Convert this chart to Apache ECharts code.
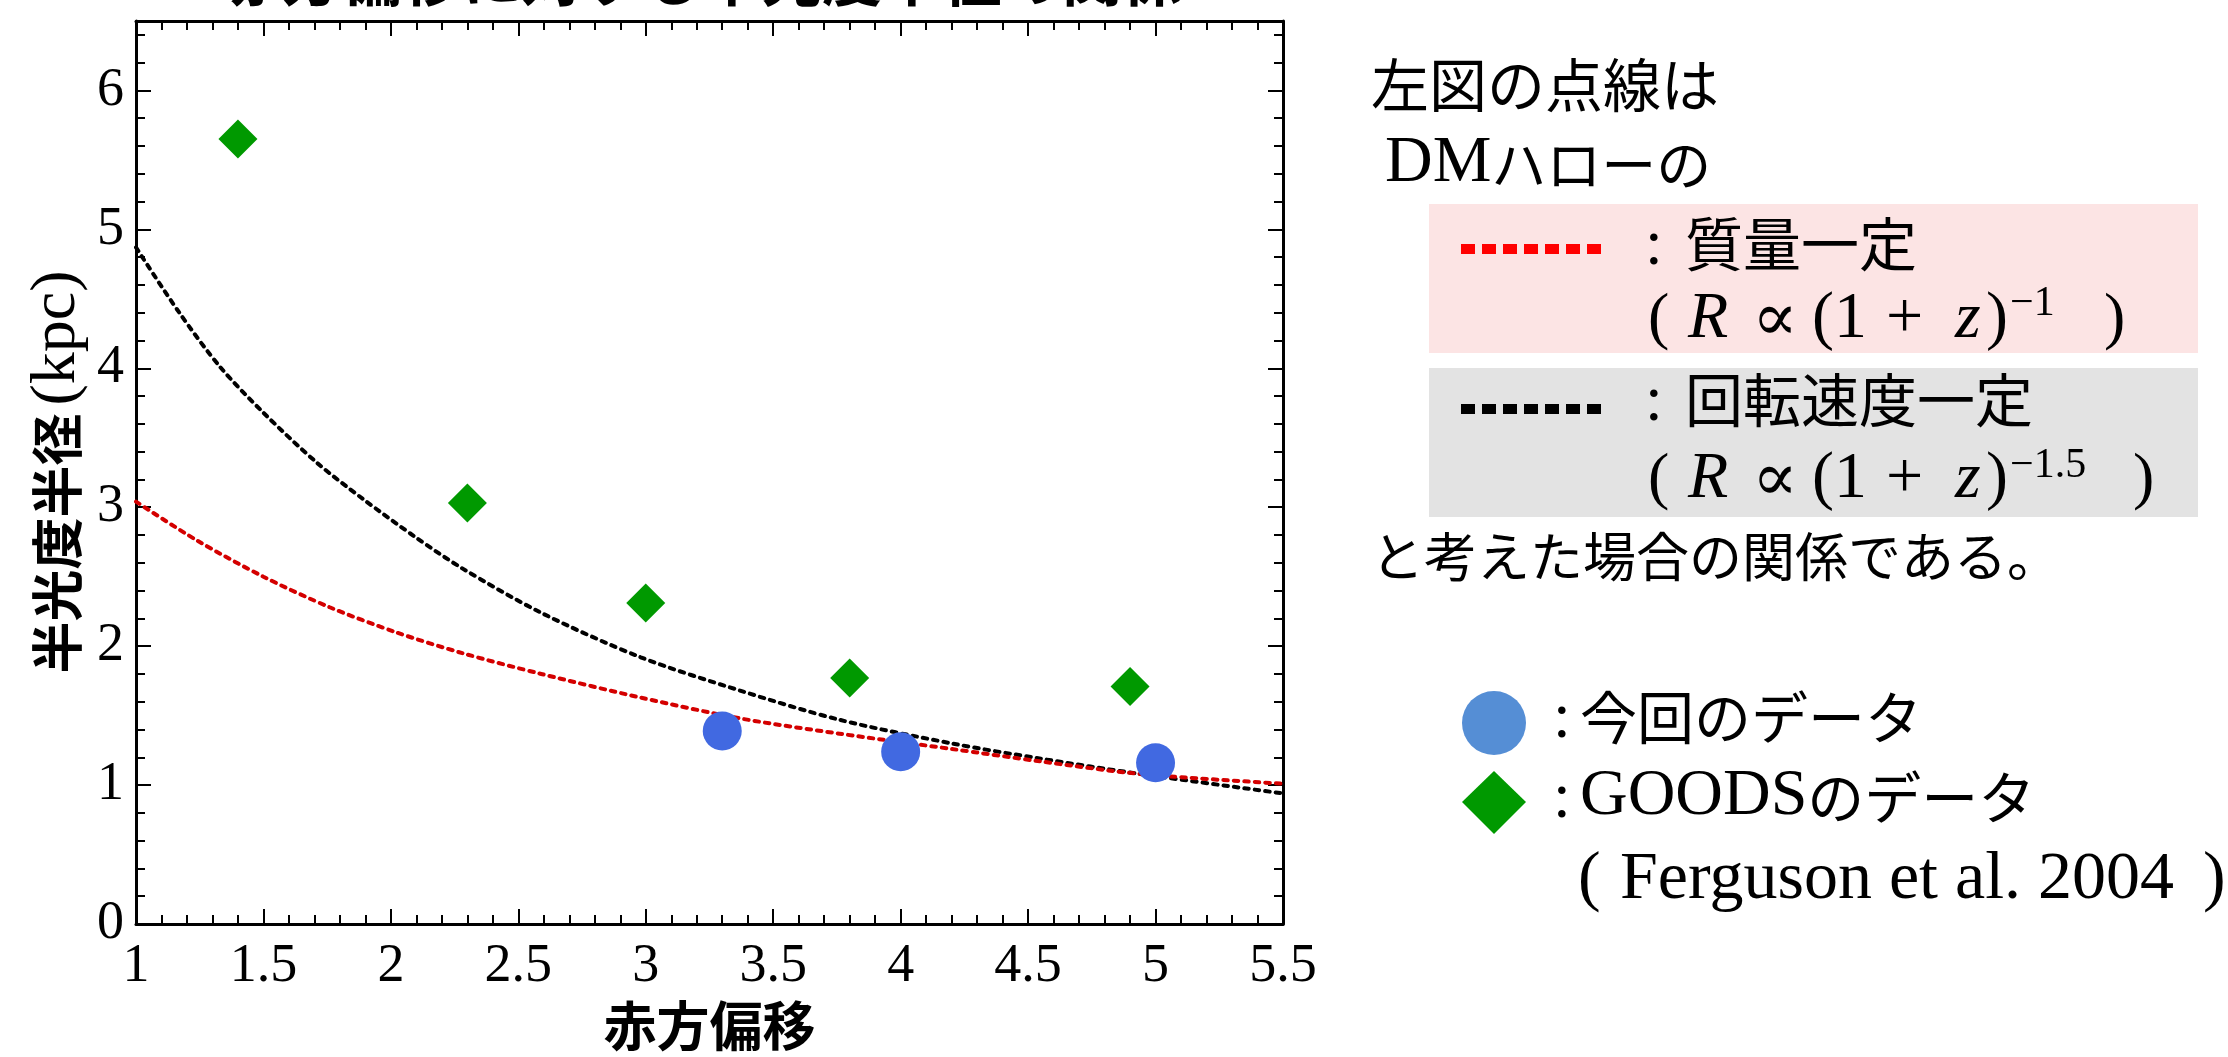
<!DOCTYPE html>
<html><head><meta charset="utf-8">
<script src="https://cdn.jsdelivr.net/npm/echarts@6/dist/echarts.min.js"></script>
<style>html,body{margin:0;padding:0;background:#fff}#c{width:2228px;height:1057px}</style>
</head><body><div id="c"></div><script>
// ---- data ----
const zBlue = [3.3, 4.0, 5.0];
const rBlue = [1.39, 1.24, 1.16];
const zGoods = [1.4, 2.3, 3.0, 3.8, 4.9];
const rGoods = [5.65, 3.03, 2.31, 1.77, 1.71];
const zBlackCurve = [1, 1.17, 1.33, 1.5, 1.71, 1.89, 2.1, 2.28, 2.59, 2.98, 3.37, 3.76, 4.2, 4.55, 4.94, 5.5];
const rBlackCurve = [4.87, 4.40, 4.01, 3.68, 3.32, 3.06, 2.78, 2.56, 2.24, 1.92, 1.68, 1.47, 1.30, 1.19, 1.08, 0.94];
const zRedCurve = [1, 1.24, 1.5, 1.76, 2.02, 2.28, 2.59, 2.98, 3.37, 3.76, 4.2, 4.55, 4.94, 5.5];
const rRedCurve = [3.04, 2.76, 2.50, 2.28, 2.10, 1.95, 1.80, 1.63, 1.48, 1.37, 1.26, 1.17, 1.08, 1.01];
const xRange = [1, 5.5];
const yRange = [0, 6.5];
const xTitle = '赤方偏移';
const yTitleJp = '半光度半径';
const yTitleUnit = '(kpc)';
const chartTitle = '赤方偏移に対する半光度半径の関係';

const SERIF = '"Liberation Serif", "DejaVu Serif", serif';
const JP = '"Noto Sans CJK JP", sans-serif';
const pairs = (xs, ys) => xs.map((x, i) => [x, ys[i]]);

const chart = echarts.init(document.getElementById('c'), null, {renderer: 'canvas'});

const axisLine = {show: true, onZero: false, lineStyle: {color: '#000', width: 3}};
const tick = {show: true, inside: true, length: 15, lineStyle: {color: '#000', width: 2}};
const minor = {show: true, splitNumber: 5, length: 9, lineStyle: {color: '#000', width: 2}};
const lbl = {fontFamily: SERIF, fontSize: 54, color: '#000'};

function txt(text, x, y, font, extra) {
  return Object.assign({type: 'text', z: 20, style: {text: text, x: x, y: y, font: font, fill: '#000', textAlign: 'left', textVerticalAlign: 'middle'}}, extra || {});
}
const f = (size, fam, style) => (style ? style + ' ' : '') + size + 'px ' + fam;

function formula(y, supText, closeX, supY) {
  return [
    txt('(', 1648, y, f(64, SERIF)),
    txt('R', 1688, y, f(66, SERIF, 'italic')),
    txt('∝', 1752, y + 2, f(68, '"DejaVu Serif", serif')),
    txt('(', 1812, y, f(66, SERIF)),
    txt('1', 1834, y, f(66, SERIF)),
    txt('+', 1886, y, f(66, SERIF)),
    txt('z', 1955, y, f(66, SERIF, 'italic')),
    txt(')', 1986, y, f(66, SERIF)),
    txt(supText, 2010, supY, f(42, SERIF)),
    txt(')', closeX, y, f(64, SERIF))
  ];
}

const graphics = [
  // cut-off title at the very top
  {type: 'text', z: 20, style: {text: chartTitle, x: 702, y: -22, font: 'bold 60px ' + JP, fill: '#000', textAlign: 'center', textVerticalAlign: 'middle'}},
  // y axis title (rotated)
  {type: 'text', z: 20, x: 57, y: 472, rotation: Math.PI / 2,
   style: {text: '{j|' + yTitleJp + '}{l|' + yTitleUnit + '}', x: 0, y: 0, textAlign: 'center', textVerticalAlign: 'middle', fill: '#000',
     rich: {j: {fontFamily: JP, fontSize: 52, fontWeight: 'bold', fill: '#000'}, l: {fontFamily: SERIF, fontSize: 64, fill: '#000', padding: [0, 0, 0, 8]}}}},
  txt('左図の点線は', 1371, 85, f(58, JP)),
  {type: 'text', z: 20, style: {text: '{l|DM}{j|ハローの}', x: 1385, y: 164, textAlign: 'left', textVerticalAlign: 'middle', fill: '#000',
    rich: {l: {fontFamily: SERIF, fontSize: 66, fill: '#000'}, j: {fontFamily: JP, fontSize: 55, fill: '#000'}}}},
  {type: 'rect', z: 1, shape: {x: 1429, y: 204, width: 769, height: 149}, style: {fill: '#FCE4E4'}},
  {type: 'line', z: 5, shape: {x1: 1461, y1: 249, x2: 1606, y2: 249}, style: {stroke: '#FF0000', lineWidth: 10, lineDash: [14, 7]}},
  txt(':', 1645, 247, f(64, SERIF)),
  txt('質量一定', 1685, 244, f(58, JP)),
  ...formula(320, '−1', 2104, 304),
  {type: 'rect', z: 1, shape: {x: 1429, y: 368, width: 769, height: 149}, style: {fill: '#E3E3E3'}},
  {type: 'line', z: 5, shape: {x1: 1461, y1: 409, x2: 1606, y2: 409}, style: {stroke: '#000', lineWidth: 10, lineDash: [14, 7]}},
  txt(':', 1645, 403, f(64, SERIF)),
  txt('回転速度一定', 1685, 400, f(58, JP)),
  ...formula(480, '−1.5', 2133, 466),
  txt('と考えた場合の関係である。', 1371, 557, f(53, JP)),
  {type: 'circle', z: 5, shape: {cx: 1494, cy: 723, r: 32}, style: {fill: '#558ED5'}},
  txt(':', 1553, 720, f(64, SERIF)),
  txt('今回のデータ', 1580, 717, f(57, JP)),
  {type: 'polygon', z: 5, shape: {points: [[1494, 771], [1526, 802], [1494, 834], [1462, 802]]}, style: {fill: '#009900'}},
  txt(':', 1553, 800, f(64, SERIF)),
  {type: 'text', z: 20, style: {text: '{l|GOODS}{j|のデータ}', x: 1580, y: 797, textAlign: 'left', textVerticalAlign: 'middle', fill: '#000',
    rich: {l: {fontFamily: SERIF, fontSize: 66, fill: '#000'}, j: {fontFamily: JP, fontSize: 57, fill: '#000'}}}},
  txt('(', 1578, 880, f(68, SERIF)),
  txt('Ferguson et al. 2004', 1620, 880, f(68, SERIF)),
  txt(')', 2203, 880, f(68, SERIF))
];

const option = {
  animation: false,
  backgroundColor: '#fff',
  grid: {left: 136, right: 945, top: 21, bottom: 118, containLabel: false},
  xAxis: [
    {type: 'value', min: xRange[0], max: xRange[1], interval: 0.5, position: 'bottom',
     name: xTitle, nameLocation: 'middle', nameGap: 75,
     nameTextStyle: {fontFamily: JP, fontSize: 53, fontWeight: 'bold', color: '#000'},
     axisLine: axisLine, axisTick: tick, minorTick: minor, splitLine: {show: false},
     axisLabel: Object.assign({margin: 16}, lbl)},
    {type: 'value', min: xRange[0], max: xRange[1], interval: 0.5, position: 'top',
     axisLine: axisLine, axisTick: tick, minorTick: minor, splitLine: {show: false}, axisLabel: {show: false}}
  ],
  yAxis: [
    {type: 'value', min: yRange[0], max: yRange[1], interval: 1, position: 'left',
     axisLine: axisLine, axisTick: tick, minorTick: minor, splitLine: {show: false},
     axisLabel: Object.assign({margin: 12, showMaxLabel: false}, lbl)},
    {type: 'value', min: yRange[0], max: yRange[1], interval: 1, position: 'right',
     axisLine: axisLine, axisTick: tick, minorTick: minor, splitLine: {show: false}, axisLabel: {show: false}}
  ],
  series: [
    {type: 'line', data: pairs(zBlackCurve, rBlackCurve), smooth: 0.3, showSymbol: false, z: 2,
     lineStyle: {color: '#000', width: 4, type: [4.5, 6], cap: 'round'}},
    {type: 'line', data: pairs(zRedCurve, rRedCurve), smooth: 0.3, showSymbol: false, z: 3,
     lineStyle: {color: '#D40000', width: 4, type: [4.5, 6], cap: 'round'}},
    {type: 'scatter', data: pairs(zGoods, rGoods), symbol: 'diamond', symbolSize: 39, z: 5,
     itemStyle: {color: '#009900', opacity: 1}},
    {type: 'scatter', data: pairs(zBlue, rBlue), symbol: 'circle', symbolSize: 39, z: 6,
     itemStyle: {color: '#4169E1', opacity: 1}}
  ],
  graphic: graphics
};
chart.setOption(option);
</script></body></html>
